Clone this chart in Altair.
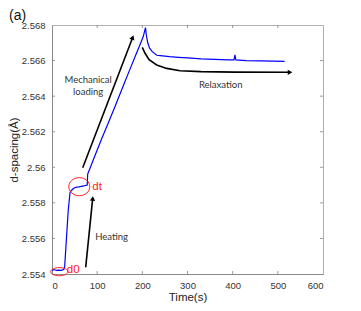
import altair as alt
import pandas as pd

# ---- data ----
time_s = [0, 5, 10, 15, 20, 26, 28, 32, 36, 40, 45, 50, 55, 60, 65, 70, 75, 78, 79,
          85, 95, 110, 125, 140, 155, 170, 185, 195, 202, 207, 209, 212, 216, 222,
          232, 240, 260, 280, 300, 330, 360, 390, 403, 405, 407, 430, 460, 490, 515]
d_spacing = [2.55420, 2.55425, 2.55420, 2.55422, 2.55420, 2.55425, 2.55440, 2.55600,
             2.55760, 2.55860, 2.55875, 2.55885, 2.55888, 2.55890, 2.55893, 2.55895,
             2.55898, 2.55900, 2.55962, 2.56000, 2.56065, 2.56160, 2.56252, 2.56345,
             2.56440, 2.56535, 2.56628, 2.56690, 2.56735, 2.56785, 2.56740, 2.56700,
             2.56670, 2.56650, 2.56630, 2.56628, 2.56622, 2.56618, 2.56615, 2.56610,
             2.56607, 2.56604, 2.56604, 2.56632, 2.56604, 2.56600, 2.56598, 2.56597,
             2.56595]

x_ticks = [0, 100, 200, 300, 400, 500, 600]
y_ticks = [2.554, 2.556, 2.558, 2.560, 2.562, 2.564, 2.566, 2.568]

# annotation arrows (time, d-spacing)
mech_t = [68, 178.6]
mech_d = [2.55997, 2.56730]
heat_t = [74.6, 90.1]
heat_d = [2.55438, 2.55825]
relax_t = [199.9, 206, 215, 231.8, 254, 283.4, 330, 405, 527]
relax_d = [2.56674, 2.56641, 2.56605, 2.56575, 2.56556, 2.56543, 2.56538, 2.56535, 2.56534]

labels = ["Mechanical", "loading", "Relaxation", "Heating"]
label_t = [80, 80, 373.5, 132]
label_d = [2.56493, 2.56421, 2.56462, 2.55610]

red_labels = ["d0", "dt"]
red_t = [47, 100]
red_d = [2.55420, 2.55891]

ellipse_t = [16.2, 60.4]
ellipse_d = [2.55413, 2.55891]

W, H = 271, 249

xs = alt.Scale(domain=[0, 600], nice=False)
ys = alt.Scale(domain=[2.554, 2.568], nice=False)

x_axis = alt.Axis(values=x_ticks, title="Time(s)", format="d", grid=False,
                  labelOverlap=False)
y_axis = alt.Axis(values=y_ticks, title="d-spacing(Å)", format="~g", grid=False,
                  labelOverlap=False)


def X(field="t:Q"):
    return alt.X(field, scale=xs, axis=x_axis)


def Y(field="d:Q"):
    return alt.Y(field, scale=ys, axis=y_axis)


main = pd.DataFrame({"t": time_s, "d": d_spacing})

curve = alt.Chart(main).mark_line(color="#0000ff", strokeWidth=1.2).encode(
    x=X(), y=Y(), order="t:Q")


def arrow_line(ts, ds):
    df = pd.DataFrame({"t": ts, "d": ds, "o": list(range(len(ts)))})
    return alt.Chart(df).mark_line(color="black", strokeWidth=1.6).encode(
        x=X(), y=Y(), order="o:Q")


def arrow_head(t, d, ang):
    df = pd.DataFrame({"t": [t], "d": [d]})
    return alt.Chart(df).mark_point(shape="triangle-up", filled=True, color="black",
                                    size=28, opacity=1, angle=ang).encode(x=X(), y=Y())


arrows = [
    arrow_line(mech_t, mech_d), arrow_head(mech_t[-1], mech_d[-1], 21),
    arrow_line(heat_t, heat_d), arrow_head(heat_t[-1], heat_d[-1], 6),
    arrow_line(relax_t, relax_d), arrow_head(relax_t[-1], relax_d[-1], 90),
]

txt = alt.Chart(pd.DataFrame({"label": labels, "t": label_t, "d": label_d})).mark_text(
    font="Lato", fontSize=9.5, color="#333333").encode(x=X(), y=Y(), text="label:N")

red_txt = alt.Chart(pd.DataFrame({"label": red_labels, "t": red_t, "d": red_d})).mark_text(
    font="Liberation Sans", fontSize=11.5, color="#ff2020", align="center").encode(
    x=X(), y=Y(), text="label:N")


def ellipse(t, d, size, ry):
    path = f"M -1 0 A 1 {ry} 0 1 1 1 0 A 1 {ry} 0 1 1 -1 0 Z"
    df = pd.DataFrame({"t": [t], "d": [d]})
    return alt.Chart(df).mark_point(shape=path, filled=False, color="#ff2020",
                                    strokeWidth=1, size=size, opacity=1).encode(
        x=X(), y=Y())


ell = [ellipse(ellipse_t[0], ellipse_d[0], 300, 0.47),
       ellipse(ellipse_t[1], ellipse_d[1], 441, 0.86)]

# inside tick marks (MATLAB style) on all four sides
xt = pd.DataFrame({"t": x_ticks[1:-1]})
yt = pd.DataFrame({"d": y_ticks[1:-1]})
tick_col = "#808080"
ticks = [
    alt.Chart(xt).mark_rule(color=tick_col, strokeWidth=0.8).encode(
        x=X(), y=alt.value(H), y2=alt.value(H - 3)),
    alt.Chart(xt).mark_rule(color=tick_col, strokeWidth=0.8).encode(
        x=X(), y=alt.value(0), y2=alt.value(3)),
    alt.Chart(yt).mark_rule(color=tick_col, strokeWidth=0.8).encode(
        y=Y(), x=alt.value(0), x2=alt.value(3)),
    alt.Chart(yt).mark_rule(color=tick_col, strokeWidth=0.8).encode(
        y=Y(), x=alt.value(W), x2=alt.value(W - 3)),
]

panel_label = alt.Chart(pd.DataFrame({"s": ["(a)"]})).mark_text(
    font="Liberation Sans", fontSize=14, color="#111111", align="left",
    baseline="middle").encode(x=alt.value(-43), y=alt.value(-9), text="s:N")

chart = alt.layer(curve, *ticks, *arrows, txt, red_txt, *ell, panel_label).properties(
    width=W, height=H,
    autosize=alt.AutoSizeParams(type="none"),
    padding={"left": 44, "top": 17, "right": 30, "bottom": 29},
).configure_view(stroke="#b0b0b0", strokeWidth=1).configure_axis(
    ticks=False,
    domainColor="#8a8a8a",
    labelFont="Liberation Sans", labelFontSize=9.5, labelColor="#333333",
    titleFont="Liberation Sans", titleFontSize=11.5, titleFontWeight="normal",
    titleColor="#222222",
).configure_axisX(labelPadding=6, titlePadding=2).configure_axisY(
    labelPadding=7, titlePadding=2)

chart.save("out.html", embed_options={"renderer": "svg", "actions": False})
